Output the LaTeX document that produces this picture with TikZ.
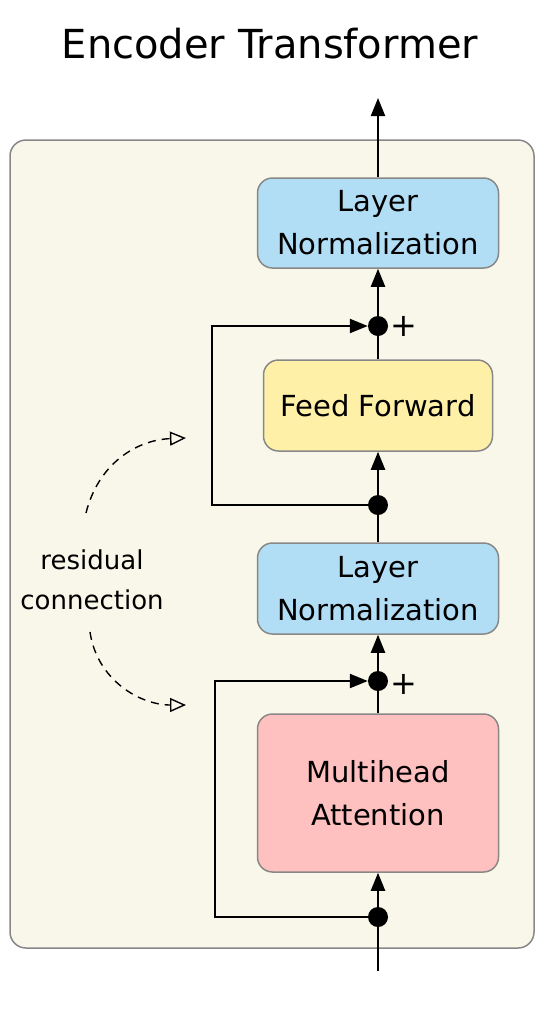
\documentclass[tikz,border=0pt]{standalone}
\usepackage{fontspec}
\setmainfont{DejaVu Sans}
\usetikzlibrary{arrows.meta}
\definecolor{bgbeige}{HTML}{F9F7E9}
\definecolor{boxgray}{HTML}{888888}
\definecolor{lnblue}{HTML}{B1DDF5}
\definecolor{ffyellow}{HTML}{FFF0A8}
\definecolor{mhpink}{HTML}{FFC0C0}
\tikzset{
  blk/.style={draw=boxgray, line width=1.5pt, rounded corners=15pt, align=center, inner sep=0pt,
    font=\fontsize{29}{43}\selectfont},
  tip/.style={-{Triangle[length=18pt,width=14pt]}},
  conn/.style={line width=2.2pt, tip},
  plain/.style={line width=2.2pt},
  dotnode/.style={circle, fill=black, inner sep=0pt, minimum size=20pt},
  plusnode/.style={font=\fontsize{32}{32}\selectfont, inner sep=0pt},
  dashc/.style={line width=1.4pt, dash pattern=on 8pt off 6pt, -{Triangle[open,length=16pt,width=14pt,fill=bgbeige]}},
}
\begin{document}
\begin{tikzpicture}[x=1pt,y=-1pt]
\useasboundingbox (0,0) rectangle (535,1010);
% background panel
\node[draw=boxgray, fill=bgbeige, line width=1.5pt, rounded corners=16pt, minimum width=524pt, minimum height=808pt, inner sep=0pt] (panel) at (272,544) {};
% title
\node[font=\fontsize{40}{44}\selectfont] (title) at (270,44) {Encoder Transformer};
% boxes
\node[blk, fill=lnblue, minimum width=241pt, minimum height=90pt] (ln2) at (378,223) {Layer\\Normalization};
\node[blk, fill=ffyellow, minimum width=229pt, minimum height=91pt] (ff) at (378,405.5) {Feed Forward};
\node[blk, fill=lnblue, minimum width=241pt, minimum height=91pt] (ln1) at (378,588.5) {Layer\\Normalization};
\node[blk, fill=mhpink, minimum width=241pt, minimum height=158pt] (mh) at (378,793) {Multihead\\Attention};
% dots and plus signs
\node[dotnode] (d4) at (378,326) {};
\node[plusnode] (p4) at (404,326) {+};
\node[dotnode] (d3) at (378,505) {};
\node[dotnode] (d2) at (378,681) {};
\node[plusnode] (p2) at (404,684) {+};
\node[dotnode] (d1) at (378,917) {};
% end coordinates
\coordinate (in) at (378,971);
\coordinate (out) at (378,98);
\coordinate (c1) at (215,917);
\coordinate (c2) at (215,681);
\coordinate (c3) at (212,505);
\coordinate (c4) at (212,326);
% main flow
\draw[plain] (in) -- (d1);
\draw[conn] (d1) -- (mh.south);
\draw[plain] (mh.north) -- (d2);
\draw[conn] (d2) -- (ln1.south);
\draw[plain] (ln1.north) -- (d3);
\draw[conn] (d3) -- (ff.south);
\draw[plain] (ff.north) -- (d4);
\draw[conn] (d4) -- (ln2.south);
\draw[conn] (ln2.north) -- (out);
% residual loops
\draw[line width=2.2pt, tip] (d1.center) -- (c1) -- (c2) -- (d2.west);
\draw[line width=2.2pt, tip] (d3.center) -- (c3) -- (c4) -- (d4.west);
% residual label
\node[font=\fontsize{26}{40}\selectfont, align=center] (res) at (92,580) {residual\\connection};
\coordinate (ta) at (186,438);
\coordinate (tb) at (186,705);
\draw[dashc] (86,513) .. controls (98,465) and (135,440) .. (ta);
\draw[dashc] (90,632) .. controls (97,680) and (140,705) .. (tb);
\end{tikzpicture}
\end{document}
